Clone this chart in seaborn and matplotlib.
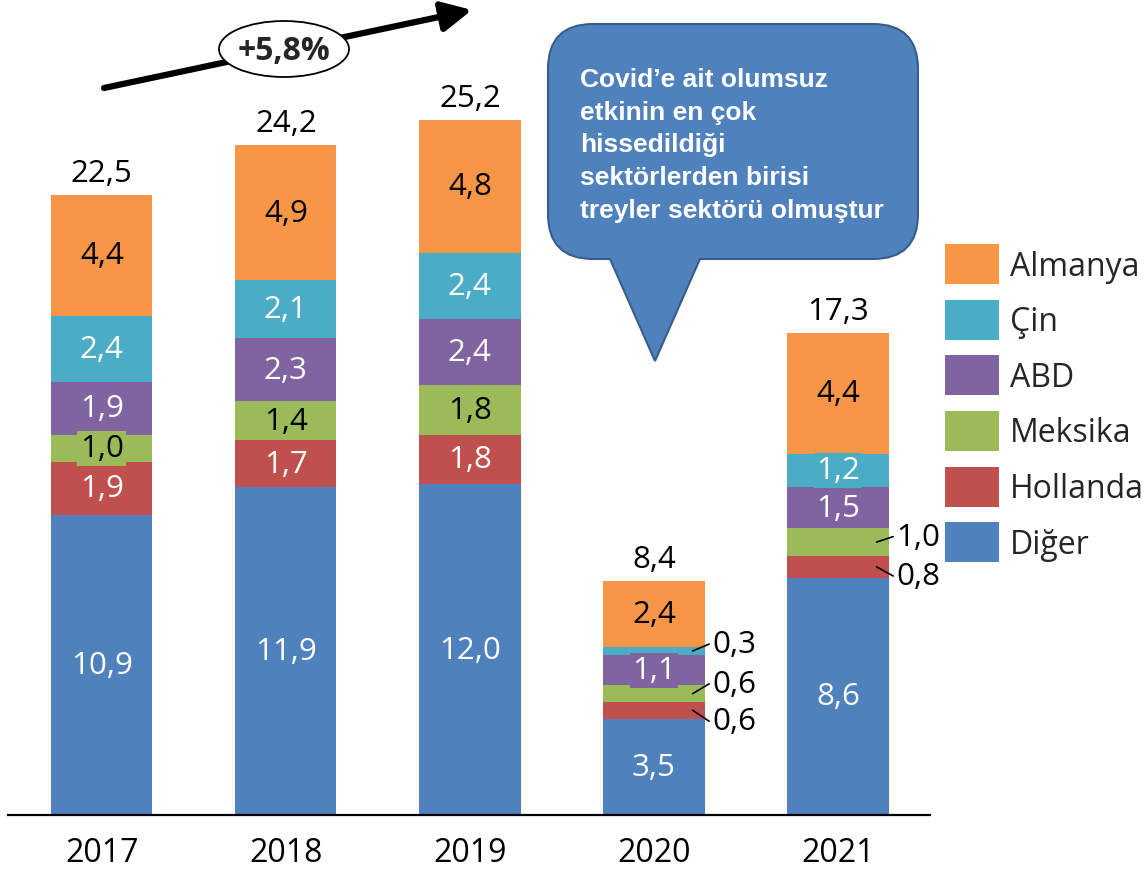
import numpy as np
import seaborn as sns
import matplotlib.pyplot as plt
from matplotlib.path import Path
from matplotlib.patches import PathPatch, Ellipse, Patch

# data
years = ["2017", "2018", "2019", "2020", "2021"]
diger = [10.9, 11.9, 12.0, 3.5, 8.6]
hollanda = [1.9, 1.7, 1.8, 0.6, 0.8]
meksika = [1.0, 1.4, 1.8, 0.6, 1.0]
abd = [1.9, 2.3, 2.4, 1.1, 1.5]
cin = [2.4, 2.1, 2.4, 0.3, 1.2]
almanya = [4.4, 4.9, 4.8, 2.4, 4.4]
totals = [22.5, 24.2, 25.2, 8.4, 17.3]
growth_label = "+5,8%"
note = ("Covid’e ait olumsuz\netkinin en çok\nhissedildiği\n"
        "sektörlerden birisi\ntreyler sektörü olmuştur")

# name, values, bar colour, label colour (bottom to top)
series = [
    ("Diğer", diger, "#4F81BD", "white"),
    ("Hollanda", hollanda, "#C0504D", "white"),
    ("Meksika", meksika, "#9BBB59", "black"),
    ("ABD", abd, "#8064A2", "white"),
    ("Çin", cin, "#4BACC6", "white"),
    ("Almanya", almanya, "#F79646", "black"),
]
# small segments labelled outside the bar: (series, bar index) -> vertical shift
outside = {("Çin", 3): 0.25, ("Meksika", 3): 0.36, ("Hollanda", 3): -0.4,
           ("Meksika", 4): 0.2, ("Hollanda", 4): -0.33}

W, H = 1144, 870
sns.set_style("white")
plt.rcParams['font.family'] = ['Open Sans', 'DejaVu Sans']
FS = 22.5


def fmt(v):
    return f"{v:.1f}".replace(".", ",")


fig = plt.figure(figsize=(W / 100, H / 100), dpi=100)
ax = fig.add_axes([8 / W, 54 / H, 922 / W, 816 / H])

bottom = np.zeros(len(years))
for name, vals, col, tcol in series:
    sns.barplot(x=years, y=vals, bottom=bottom, color=col, saturation=1, width=0.55,
                errorbar=None, linewidth=0, ax=ax)
    for i, v in enumerate(vals):
        yc = bottom[i] + v / 2
        if (name, i) in outside:
            ty = yc + outside[(name, i)]
            ax.plot([i + 0.21, i + 0.30], [yc, ty], color="black", lw=1.2, zorder=4)
            ax.text(i + 0.315, ty, fmt(v), ha="left", va="center", fontsize=FS, color="black")
        else:
            ax.text(i, yc, fmt(v), ha="center", va="center", fontsize=FS, color=tcol, zorder=5,
                    bbox=dict(boxstyle="square,pad=0.08", fc=col, ec="none"))
    bottom += np.array(vals)

for i, t in enumerate(totals):
    ax.text(i, bottom[i] + 0.25, fmt(t), ha="center", va="bottom", fontsize=FS, color="black")

ax.set_xlim(-0.51, 4.5)
ax.set_ylim(0, 29.6)
ax.set_yticks([])
ax.set_xlabel("")
ax.set_ylabel("")
sns.despine(ax=ax, left=True)
ax.spines["bottom"].set_color("black")
ax.spines["bottom"].set_linewidth(1.6)
ax.tick_params(axis="x", length=0, pad=15, labelsize=23, colors="black")

handles = [Patch(fc=col, ec="none", label=name) for name, _, col, _ in reversed(series)]
ax.legend(handles=handles, loc="upper left", bbox_to_anchor=(945 / W, 1 - 245 / H),
          bbox_transform=fig.transFigure, frameon=False, fontsize=23,
          handlelength=1.7, handleheight=1.55, handletextpad=0.33,
          labelspacing=0.49, borderpad=0, borderaxespad=0)

# overlay in pixel coordinates for the arrow and callout
ov = fig.add_axes([0, 0, 1, 1])
ov.set_xlim(0, W)
ov.set_ylim(H, 0)
ov.axis("off")
ov.patch.set_alpha(0)

ov.annotate("", xy=(472, 11), xytext=(104, 89),
            arrowprops=dict(arrowstyle="-|>,head_length=0.9,head_width=0.45", lw=4.5,
                            color="black", mutation_scale=20, shrinkA=0, shrinkB=0))
ov.add_patch(Ellipse((284, 50), 130, 56, fc="white", ec="black", lw=1.3, zorder=3))
ov.text(284, 51, growth_label, ha="center", va="center", fontsize=23, fontweight="bold", zorder=4)

x0, x1, y0, y1, r = 548, 918, 25, 260, 45
verts = [(x0 + r, y0), (x1 - r, y0), (x1, y0), (x1, y0 + r), (x1, y1 - r), (x1, y1),
         (x1 - r, y1), (700, y1), (655, 362), (610, y1), (x0 + r, y1), (x0, y1),
         (x0, y1 - r), (x0, y0 + r), (x0, y0), (x0 + r, y0), (x0 + r, y0)]
codes = [Path.MOVETO, Path.LINETO, Path.CURVE3, Path.CURVE3, Path.LINETO, Path.CURVE3,
         Path.CURVE3, Path.LINETO, Path.LINETO, Path.LINETO, Path.LINETO, Path.CURVE3,
         Path.CURVE3, Path.LINETO, Path.CURVE3, Path.CURVE3, Path.CLOSEPOLY]
ov.add_patch(PathPatch(Path(verts, codes), fc="#4F81BD", ec="#385D8A", lw=1.5))
ov.text(580, 68, note, ha="left", va="top", fontsize=19, fontweight="bold", color="white",
        family=["Liberation Sans", "DejaVu Sans"], linespacing=1.46)

fig.savefig("out.png", dpi=100)
